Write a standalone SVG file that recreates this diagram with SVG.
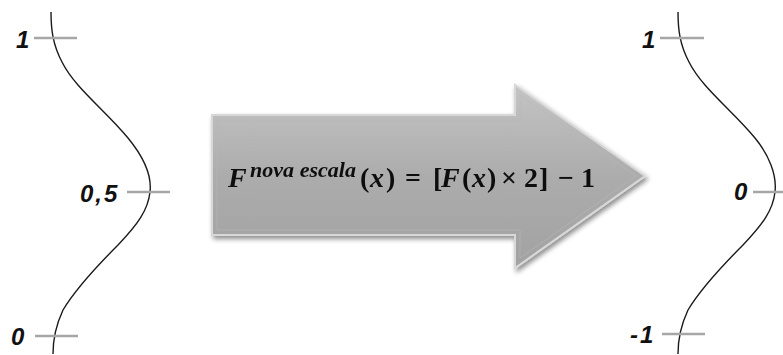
<svg xmlns="http://www.w3.org/2000/svg" width="783" height="355" viewBox="0 0 783 355">
<style>
.curve{fill:none;stroke:#1a1a1a;stroke-width:1.4}
.tick{stroke:#a6a6a6;stroke-width:2.5}
.lbl{font-family:"Liberation Sans",Arial,sans-serif;font-weight:bold;font-style:italic;font-size:24px;letter-spacing:2px;fill:#111}
.eq{font-family:"Liberation Serif","DejaVu Serif",serif;font-weight:bold;font-size:28px;fill:#111}
.it{font-style:italic}
</style>
<defs>
<linearGradient id="ag" x1="0" y1="0" x2="0" y2="1">
<stop offset="0" stop-color="#c4c4c4"/>
<stop offset="0.5" stop-color="#acacac"/>
<stop offset="1" stop-color="#a2a2a2"/>
</linearGradient>
<filter id="sh" x="-10%" y="-10%" width="130%" height="130%">
<feGaussianBlur in="SourceAlpha" stdDeviation="2.5"/>
<feOffset dx="2" dy="3" result="b"/>
<feComponentTransfer><feFuncA type="linear" slope="0.45"/></feComponentTransfer>
<feMerge><feMergeNode/><feMergeNode in="SourceGraphic"/></feMerge>
</filter>
</defs>
<g id="left-scale">
<path class="curve" d="M51,12 C51,30 53,45 62,62 C75,88 105,110 128,138 C142,155 152,175 150,192 C148,210 138,224 118,245 C95,268 75,290 63,310 C56,325 53,340 53,354"/>
<line class="tick" x1="34" y1="38" x2="77" y2="38"/>
<line class="tick" x1="127" y1="192" x2="170" y2="192"/>
<line class="tick" x1="35" y1="336" x2="78" y2="336"/>
<text class="lbl" x="16" y="48">1</text>
<text class="lbl" x="80" y="202">0,5</text>
<text class="lbl" x="11" y="345">0</text>
</g>
<g id="arrow" filter="url(#sh)">
<path d="M212,115 H515 V85 L645,176 L515,268 V235 H212 Z" fill="url(#ag)" stroke="#d8d8d8" stroke-width="2"/>
<path d="M217,120 H520 V95 L636,176 L520,258 V230 H217 Z" fill="none" stroke="#b8b8b8" stroke-width="1" opacity="0.6"/>
<text class="eq" y="187"><tspan class="it" x="228">F</tspan><tspan class="it" x="250" y="177" font-size="20" textLength="106" lengthAdjust="spacingAndGlyphs">nova escala</tspan><tspan x="360" y="187">(</tspan><tspan class="it" x="370">x</tspan><tspan x="386">)</tspan><tspan x="405">=</tspan><tspan x="433">[</tspan><tspan class="it" x="441">F</tspan><tspan x="462">(</tspan><tspan class="it" x="472">x</tspan><tspan x="487">)</tspan><tspan x="501">×</tspan><tspan x="524">2</tspan><tspan x="539">]</tspan><tspan x="558">−</tspan><tspan x="581">1</tspan></text>
</g>
<g id="right-scale">
<path class="curve" d="M678,12 C678,30 680,45 689,62 C702,88 732,110 755,138 C769,155 777,175 775,192 C773,210 763,224 743,245 C720,268 700,290 688,310 C681,325 678,340 678,354"/>
<line class="tick" x1="660" y1="38" x2="704" y2="38"/>
<line class="tick" x1="753" y1="192" x2="783" y2="192"/>
<line class="tick" x1="662" y1="334" x2="705" y2="334"/>
<text class="lbl" x="642" y="48">1</text>
<text class="lbl" x="734" y="200">0</text>
<text class="lbl" x="630" y="343">-1</text>
</g>
</svg>
